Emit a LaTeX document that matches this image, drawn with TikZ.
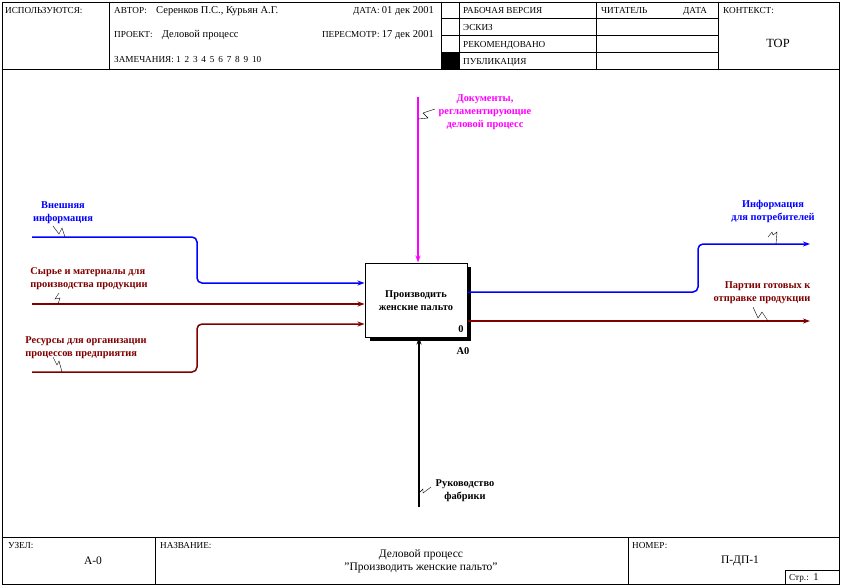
\documentclass[tikz,border=0pt]{standalone}
\usepackage{fontspec}
\setmainfont{Liberation Serif}
\usepackage{tikz}
\usetikzlibrary{arrows.meta,positioning,calc}
\definecolor{inf}{HTML}{0000FF}
\definecolor{mat}{HTML}{800000}
\definecolor{ctl}{HTML}{FF00FF}
\newcommand{\valsize}{\fontsize{10.5}{13}\selectfont}
\tikzset{frm/.style={draw=black, line width=0.8pt},
         hd/.style={font=\fontsize{9.2}{10}\selectfont, inner sep=0pt},
         val/.style={font=\fontsize{11.5}{13}\selectfont, inner sep=0pt, align=center},
         lbl/.style={font=\fontsize{10.4}{13}\selectfont\bfseries, align=center, inner sep=0pt},
         arr/.style={line width=1.5pt, rounded corners=5pt, -{Stealth[length=7pt,width=5pt]}},
         sq/.style={line width=0.4pt, black}}

\begin{document}
\begin{tikzpicture}[x=1pt,y=-1pt]
\useasboundingbox (0,0) rectangle (842,587);
% form frame
\draw[frm] (2,2) rectangle (839,584);
\draw[frm] (2,69) -- (839,69);
\draw[frm] (2,537) -- (839,537);
\foreach \x in {109,441,459,596,718} {\draw[frm] (\x,2) -- (\x,69);}
\foreach \y in {18,35,52} {\draw[frm] (441,\y) -- (718,\y);}
\fill (441,52) rectangle (459,69);
\foreach \x in {155,628} {\draw[frm] (\x,537) -- (\x,584);}
\draw[frm] (785,570) rectangle (839,584);
% header texts
\node[hd, anchor=base west] (used) at (5,13) {ИСПОЛЬЗУЮТСЯ:};
\node[hd, anchor=base west] (auth) at (114,13) {АВТОР:\quad{\valsize Серенков П.С., Курьян А.Г.}};
\node[hd, anchor=base east] (date) at (434,13) {ДАТА: {\valsize 01 дек 2001}};
\node[hd, anchor=base west] (proj) at (114,37) {ПРОЕКТ:\quad{\valsize Деловой процесс}};
\node[hd, anchor=base east] (rev) at (434,37) {ПЕРЕСМОТР: {\valsize 17 дек 2001}};
\node[hd, anchor=base west] (notes) at (114,62) {ЗАМЕЧАНИЯ: 1\, 2\, 3\, 4\, 5\, 6\, 7\, 8\, 9\, 10};
\node[hd, anchor=base west] (work) at (463,13) {РАБОЧАЯ ВЕРСИЯ};
\node[hd, anchor=base west] (draft) at (463,30) {ЭСКИЗ};
\node[hd, anchor=base west] (recom) at (463,47) {РЕКОМЕНДОВАНО};
\node[hd, anchor=base west] (publ) at (463,64) {ПУБЛИКАЦИЯ};
\node[hd, anchor=base west] (reader) at (601,13) {ЧИТАТЕЛЬ};
\node[hd, anchor=base west] (rdate) at (683,13) {ДАТА};
\node[hd, anchor=base west] (ctx) at (723,13) {КОНТЕКСТ:};
\node[val, font=\fontsize{12.5}{14}\selectfont] (top) at (778,43) {TOP};
% footer texts
\node[hd, anchor=base west] (node) at (8,548) {УЗЕЛ:};
\node[val] (nodeid) at (93,561) {А-0};
\node[hd, anchor=base west] (title) at (160,548) {НАЗВАНИЕ:};
\node[val] (titletx) at (421,561) {Деловой процесс\\"Производить женские пальто"};
\node[hd, anchor=base west] (num) at (632,548) {НОМЕР:};
\node[val] (numid) at (740,561) {П-ДП-1};
\node[hd, anchor=base west] (page) at (789,580) {Стр.:\enspace{\valsize 1}};
% function box
\fill (370,267) rectangle (471,341);
\node[draw, line width=1pt, fill=white, minimum width=102pt, minimum height=74pt, inner sep=0pt] (fn) at (416,300) {};
\node[lbl] (fntx) at (416,301) {Производить\\женские пальто};
\node[lbl] (fnno) at (461,329) {0};
\node[lbl] (fnid) at (463,351) {A0};
% arrow ends
\coordinate (in1) at (32,237);
\coordinate (in2) at (32,304);
\coordinate (in3) at (32,372);
\coordinate (ct1) at (418,97);
\coordinate (me1) at (419,507);
\coordinate (out1) at (810,244);
\coordinate (out2) at (810,321);
% inputs
\draw[arr, inf] (in1) -- (197,237) -- (197,283) -- (fn.west |- 0,283);
\draw[arr, mat] (in2) -- (fn.west |- in2);
\draw[arr, mat] (in3) -- (197,372) -- (197,324) -- (fn.west |- 0,324);
% control and mechanism
\draw[arr, ctl] (ct1) -- (ct1 |- fn.north);
\draw[arr, black] (me1) -- (me1 |- fn.south);
% outputs
\draw[arr, inf] (fn.east |- 0,292) -- (698,292) -- (698,244) -- (out1);
\draw[arr, mat] (fn.east |- out2) -- (out2);
% labels
\node[lbl, inf] (lin1) at (63,213) {Внешняя\\информация};
\node[lbl, mat, align=left] (lin2) at (89,279) {Сырье и материалы для\\производства продукции};
\node[lbl, mat, align=left] (lin3) at (86,348) {Ресурсы для организации\\процессов предприятия};
\node[lbl, ctl] (lct1) at (485,112) {Документы,\\регламентирующие\\деловой процесс};
\node[lbl, black] (lme1) at (465,491) {Руководство\\фабрики};
\node[lbl, inf] (lout1) at (773,211) {Информация\\для потребителей};
\node[lbl, mat, align=right] (lout2) at (762,293) {Партии готовых к\\отправке продукции};
% squiggles
\draw[sq] (53,226) -- (59,234) -- (62,228) -- (65,237);
\draw[sq] (59,293) -- (55,299) -- (60,298) -- (58,304);
\draw[sq] (53,357) -- (57,365) -- (59,361) -- (62,372);
\draw[sq] (ct1 |- 0,119) -- (428,118) -- (423,113) -- (435,109);
\draw[sq] (me1 |- 0,493) -- (423,489) -- (423,493) -- (431,487);
\draw[sq] (776,244) -- (777,232) -- (773,235) -- (772,232) -- (768,237);
\draw[sq] (753,307) -- (758,318) -- (762,312) -- (768,321);
\end{tikzpicture}
\end{document}
